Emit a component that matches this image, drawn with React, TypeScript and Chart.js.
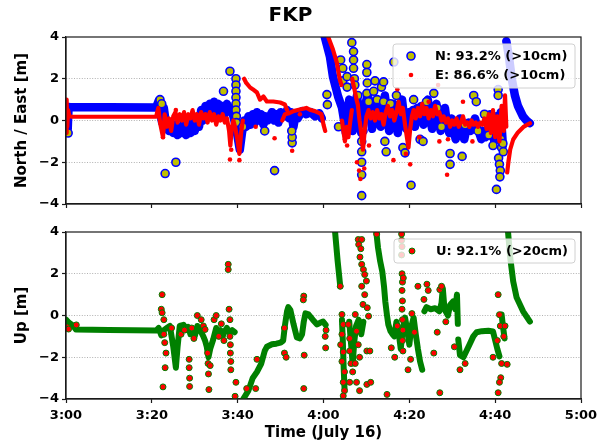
import React, { useEffect, useRef } from 'react';
import { Chart, registerables } from 'chart.js';
Chart.register(...registerables);

type P = [number, number] | null;

// ---------- text ----------
const chartTitle = 'FKP';
const xAxisTitle = 'Time (July 16)';
const neAxisTitle = 'North / East [m]';
const upAxisTitle = 'Up [m]';
const legendTop = ['N: 93.2% (>10cm)', 'E: 86.6% (>10cm)'];
const legendBottom = ['U: 92.1% (>20cm)'];
// x values are minutes after 3:00
const xStartHour = 3;
const xMin = 0;
const xMax = 120;
const xStep = 20;
const yMin = -4;
const yMax = 4;
const yStep = 2;

// ---------- North (dense track, drawn thick) ----------
const northTrack: P[] = [
  [0, -0.6], [0.2, 0.6], [0.4, -0.4], [0.6, 0.65], [1, 0.64], [10, 0.63], [21, 0.62],
  [21.6, 0.95], [22.0, 0.3], [22.4, -0.1], [22.8, 0.6], [23.2, 0.0], [23.6, -0.4], [24, -0.5],
  [24.5, -0.1], [25, -0.6], [25.5, -0.2], [26, -0.7], [26.5, -0.3], [27, -0.6], [27.5, 0.0],
  [28, -0.7], [28.5, -0.3], [29, -0.6], [29.5, -0.1], [30, -0.5], [30.5, 0.1], [31, -0.3],
  [31.5, 0.5], [32, 0.0], [32.5, 0.7], [33, 0.2], [33.5, 0.8], [34, 0.3], [34.5, 0.9], [35, 0.4],
  [35.5, 0.8], [36, 0.2], [36.5, 0.7], [37, 0.3], [37.5, 0.8], [38, 0.5], [38.5, 0.6], [39, 0.2],
  [39.6, -0.3], [40, -0.8], [40.5, -1.4], [41, -0.6], [41.5, 0.0], [42, -0.3], [42.5, 0.2],
  [43, -0.2], [43.5, 0.3], [44, -0.1], [44.5, 0.4], [45, 0.0], [45.5, 0.3], [46, -0.2], [46.5, 0.2],
  [47, 0.0], [48, 0.4], [48.5, 0.0], [49, 0.3], [49.5, -0.1], [50, 0.4], [51, 0.2], [51.5, 0.5],
  [52, 0.1], [52.5, 0.4], [53, -0.3], [53.5, 0.3], [54, 0.1], [55, 0.45], [56, 0.3], [57, 0.4],
  [58, 0.2], [59, 0.35], [59.6, 0.1],
  null,
  [60.3, 4.0], [61.5, 3.06], [62.2, 2.1], [63.4, 1.15], [64.3, 0.62], [64.8, 0.0], [65.2, -0.6],
  [65.6, 0.3], [66.0, 1.0], [66.4, 0.2], [66.8, -0.5], [67.2, 0.5], [67.8, 1.2], [68.3, 0.3],
  [68.8, -0.6], [69.3, 0.2], [69.8, 0.8], [70.3, 1.3], [70.8, 0.5], [71.3, -0.4], [71.8, 0.3],
  [72.3, 1.0], [72.8, 0.2], [73.3, -0.3], [73.8, 0.6], [74.3, 1.2], [74.8, 0.4], [75.3, -0.5],
  [75.8, 0.2], [76.3, 0.8], [76.8, 0.0], [77.3, -0.6], [77.8, 0.3], [78.3, 1.0], [78.8, 0.1],
  [79.3, -0.4], [79.8, 0.4], [80.3, -0.2], [80.8, 0.5], [81.3, -0.3], [81.8, 0.6], [82.3, 0.0],
  [82.8, 0.7], [83.3, -0.2], [83.8, 0.3], [84.3, 1.0], [84.8, 0.2], [85.3, -0.4], [85.8, 0.3],
  [86.3, 0.8], [86.8, 0.0], [87.3, -0.5], [87.8, 0.2], [88.3, 0.6], [88.8, -0.2], [89.3, -0.6],
  [89.8, 0.1], [90.3, -0.5], [90.8, -0.9], [91.3, -0.3], [91.8, 0.1], [92.3, -0.6], [92.8, -0.9],
  [93.3, -0.4], [93.8, -0.1], [94.3, -0.5], [94.8, -0.2], [95.3, 0.1], [95.8, -0.3], [96.3, -0.6],
  [96.8, -0.9], [97.3, -0.5], [97.8, -0.8], [98.3, -0.3], [98.8, 0.3], [99.3, -0.5], [99.8, -1.0],
  [100.3, 0.2], [100.8, -0.8], [101.3, 0.4], [101.8, -1.2],
  null,
  [102.6, 3.8], [103.2, 3.06], [103.9, 1.96], [104.6, 1.2], [105.3, 0.7], [106.5, 0.19],
  [107.3, 0.0], [108.1, -0.13],
];

// ---------- North (isolated markers) ----------
const northPoints: P[] = [
  [0.5, -0.6], [21.9, 1.0], [22.3, 0.8], [23.1, -2.54], [25.6, -2.0], [36.7, 1.4], [38.2, 2.36],
  [39.6, 2.0], [39.6, 1.7], [39.6, 1.4], [39.6, 1.1], [39.6, 0.8], [39.6, 0.5], [39.7, 0.2],
  [39.7, -0.1], [41.2, -0.3], [46.3, -0.5], [48.6, -2.4], [52.7, -1.07], [52.7, -0.8], [52.6, -0.5],
  [60.8, 1.24], [60.9, 0.76], [63.5, -0.3], [64, 2.9], [64.5, 2.5], [64.5, 1.9], [65.5, 1.6],
  [65.5, 2.1], [66.6, 3.73], [67, 3.3], [67, 2.9], [67, 2.5], [67.2, 2.0], [67.3, 1.7], [68, 1.2],
  [68.9, -1.0], [68.9, -1.5], [68.9, -2.0], [68.9, -2.6], [68.9, -3.6], [69.2, -0.5], [70.1, 2.68],
  [70.1, 2.3], [70.2, 1.8], [70.1, 1.3], [70.5, 0.9], [71.7, 1.4], [72, 1.9], [72.5, 1.0],
  [73.5, 1.6], [74, 1.85], [74, 0.9], [74.3, -1.0], [74.6, -1.5], [75.6, 0.8], [76.4, 2.8],
  [77, 1.2], [78.5, -1.3], [79, -1.55], [80.4, -3.1], [81, 1.0], [81.8, 0.3], [82.5, -0.9],
  [83.2, -1.0], [84, 0.9], [85.7, 1.3], [86.5, 0.6], [87.5, -0.3], [89.5, -1.58], [89.5, -2.1],
  [92.3, -1.72], [93, -0.2], [95, 1.2], [95.6, 0.9], [96, -0.5], [97.5, 0.3], [98.5, -0.7],
  [99.5, -1.2], [100.3, -3.3], [100.7, 1.48], [100.7, 1.2], [100.8, -1.8], [101, -2.1],
  [101.2, -2.4], [101.1, -2.7], [101.3, -0.9], [101.5, -1.3], [101.8, -1.1], [101.9, -1.5],
];

// ---------- East (dense track) ----------
const eastTrack: P[] = [
  [0, -0.6], [0.15, 1.0], [0.3, -0.3], [0.5, 0.5], [0.8, 0.2], [1.2, 0.19], [21, 0.18],
  [21.5, 0.6], [22, -0.2], [22.6, -0.8], [23, 0.3], [23.5, -0.3], [24, 0.1], [24.5, -0.5],
  [25, 0.2], [25.5, 0.4], [26, -0.1], [26.5, 0.3], [27, 0.0], [27.5, 0.4], [28, -0.2], [28.5, 0.3],
  [29, 0.1], [29.5, 0.5], [30, 0.0], [30.5, 0.3], [31, -0.2], [31.5, 0.4], [32, 0.1], [32.5, 0.3],
  [33, -0.1], [33.5, 0.4], [34, 0.0], [34.5, 0.3], [35, -0.2], [35.5, 0.2], [36, 0.0], [36.5, 0.3],
  [37, -0.1], [37.5, 0.1], [38, -0.5], [38.3, -1.2], [38.6, -0.4], [39, 0.0], [39.5, -0.4],
  [40, -1.0], [40.4, -1.6], [40.8, -0.6], [41.2, 0.0],
  null,
  [41.5, 2.0], [42, 1.8], [42.9, 1.58], [43.5, 1.5], [44.5, 1.34], [45.2, 1.0], [46, 1.15],
  [46.8, 0.91], [48.3, 0.91], [49.9, 0.86], [51, 0.77], [51.5, 0.5],
  null,
  [50.4, 0.0], [51, 0.3], [52, 0.35], [53, 0.45], [54, 0.5], [55, 0.55], [56, 0.6], [57, 0.5],
  [58, 0.45], [59, 0.35], [59.5, 0.3], [60, -0.2], [60.4, -0.5],
  null,
  [61.1, 4.0], [62.2, 3.4], [63.1, 2.77], [63.8, 1.96], [64.2, 1.7],
  null,
  [64.3, 0.0], [64.7, -0.6], [65, -1.0], [65.4, -0.3], [65.8, -0.8], [66.2, -0.1], [66.6, 0.5],
  null,
  [66.7, 2.0], [67.2, 1.5], [67.7, 1.0], [68, 0.76], [68.4, 0.0], [68.8, -0.6], [69.2, -1.4],
  [69.6, -0.5], [70, 0.2], [70.5, 0.5], [71, 0.1], [71.5, 0.4], [72, 0.0], [72.5, 0.5], [73, 0.1],
  [73.5, 0.3], [74, -0.2], [74.5, 0.4], [75, 0.7], [75.5, 0.2], [76, 0.5], [76.5, 0.0], [77, 0.4],
  [77.5, 0.9], [78, 0.3], [78.5, 0.6], [79, -0.2], [79.5, -0.9], [79.8, -1.3], [80.2, -0.4],
  [80.6, 0.2], [81, 0.5], [81.5, 0.1], [82, 0.6], [82.5, 0.2], [83, 0.8], [83.5, 0.3], [84, 0.6],
  [84.5, 0.1], [85, 0.5], [85.5, 0.2], [86, 0.7], [86.5, 0.3], [87, 0.4], [87.5, 0.0], [88, 0.2],
  [88.5, -0.1], [89, 0.1], [89.5, -0.3], [90, 0.0], [90.5, -0.2], [91, 0.1], [91.5, -0.3],
  [92, -0.1], [92.5, 0.2], [93, -0.2], [93.5, -0.1], [94, -0.3], [94.5, 0.0], [95, -0.2],
  [95.5, -0.1], [96, -0.3], [96.5, -0.1], [97, -0.2], [97.5, 0.1], [98, -0.4], [98.5, 0.3],
  [99, -0.6], [99.5, 0.5], [100, -0.8], [100.5, 0.2], [101, -1.0], [101.5, 0.7], [102, -0.5],
  [102.3, 1.2], [102.6, -0.3],
  null,
  [102.8, -2.49], [103.1, -1.96], [103.5, -1.39], [104.2, -0.91], [105.3, -0.57], [106.7, -0.29],
  [108.1, -0.13],
];

// ---------- East (isolated dots) ----------
const eastPoints: P[] = [
  [22.6, -0.8], [25.6, 0.5], [38.2, -1.87], [38.5, -1.4], [40.4, -1.9], [44.2, -0.3], [48.6, -0.85],
  [52.7, -1.45], [54.5, 0.3], [65, -0.9], [65.5, -1.2], [67.8, -2.0], [68.3, -2.4], [68.6, -2.8],
  [69.5, -2.3], [70.6, -1.2], [76.3, -1.9], [77.2, 1.5], [79.2, -1.6], [80.2, -2.1], [82.3, -0.8],
  [84.5, 0.9], [86.7, 1.7], [87, -1.0], [88.8, -2.6], [89, -0.9], [92.5, 0.9], [94.7, -1.0],
];

// ---------- Up (dense track) ----------
const upTrack: P[] = [
  [0, -0.2], [0.7, -0.35], [1.6, -0.48], [2.3, -0.67], [10, -0.69], [21, -0.72], [21.6, -0.6],
  [22.2, -0.95], [22.8, -0.7], [23.5, -0.6], [24.2, -0.5], [25, -1.5], [25.6, -2.5], [26, -1.5],
  [26.5, -0.5], [27.4, -0.45], [28, -0.7], [28.5, -0.55], [29, -0.9], [29.5, -0.7], [30, -1.0],
  [30.6, -0.5], [31, -0.7], [31.5, -0.8], [32, -1.0], [32.4, -1.2], [32.8, -1.5], [33.2, -2.0],
  [33.6, -1.6], [34.3, -1.15], [35, -0.6], [35.5, -0.9], [36, -0.7], [36.5, -1.0], [37, -0.75],
  [37.5, -0.6], [38, -0.8], [38.7, -0.7], [39.3, -0.8],
  null,
  [41.3, -4.0], [42.5, -3.6], [43.5, -3.0], [44.5, -2.7], [45.5, -2.3], [46.3, -1.7], [46.8, -1.5],
  [48, -1.38], [49, -1.35], [50, -1.3], [50.6, -1.2], [51, -0.5], [51.5, 0.2], [51.8, 0.4],
  [52.3, 0.25], [53, -0.4], [53.8, -1.05], [54.5, -1.1], [55, -0.9], [55.4, -0.3], [55.8, 0.1],
  [56.5, 0.05], [57.5, -0.2], [58.5, -0.43], [59.2, -0.35], [59.9, -0.29], [60.5, -0.45],
  null,
  [62.7, 4.0], [63.3, 2.6], [63.9, 1.4],
  null,
  [64.3, -0.2], [64.5, -1.2], [64.7, -2.5], [64.9, -3.5],
  null,
  [66, -0.3], [66.4, -1.3], [66.8, -2.3], [67.2, -1.2], [67.6, -0.5], [68.2, -0.2], [68.8, -0.9],
  [69.3, -0.3],
  null,
  [72.3, 4.0], [72.7, 3.25], [73.2, 2.6], [73.7, 2.1], [74.1, 1.4], [74.4, 0.67], [74.8, 0.0],
  [75.1, -0.43], [75.6, -0.75], [76.1, -0.9], [76.5, -1.0], [77, -0.3], [77.5, -0.8], [78, -1.6],
  [78.5, -0.6], [79, -0.1], [79.5, -0.7], [80, -1.4], [80.5, -0.5], [81, -0.1], [81.5, -0.9],
  [82, -1.6], [82.5, -2.2], [83, -2.6],
  null,
  [83.5, 0.2], [84, 0.4], [85, 0.3], [86, 0.35], [87, 0.2], [87.5, 0.6], [87.8, 1.3], [88.2, 0.3],
  [89, 0.0], [89.5, 0.5], [90.2, 0.67], [90.7, 0.3], [91.1, 1.0], [91.3, -0.4],
  null,
  [91.4, -1.15], [91.8, -1.9], [92.6, -2.0], [93.3, -1.7], [94, -1.4], [94.9, -1.0], [95.7, -0.8],
  [96.9, -0.75], [98.4, -0.73], [99.5, -0.77], [99.9, -1.1], [100.5, -1.6], [101, -1.96],
  null,
  [101.5, 0.05], [101.8, -0.5], [102.2, -1.1],
  null,
  [103, 4.0], [103.5, 2.78], [104.2, 1.63], [105, 0.86], [106.5, 0.2], [108.1, -0.29],
];

// ---------- Up (isolated markers) ----------
const upPoints: P[] = [
  [0.3, -0.55], [0.6, -0.65], [2.4, -0.45],
  [22.4, 1.0], [22.2, 0.3], [22.4, 0.13], [22.8, -0.2], [22.8, -0.9], [23.0, -1.3], [23.1, -2.5],
  [22.6, -3.42], [23.3, -1.8], [24.6, -0.6], [26.8, -0.9], [27.6, -0.7],
  [28.7, -2.1], [28.7, -2.5], [28.8, -3.0], [28.8, -3.4], [29.3, -0.6], [29.8, -1.1], [30.6, 0.0],
  [31.5, -0.2], [32.0, -0.5], [32.4, -0.67], [33, -1.8], [33.1, -2.3], [33.2, -2.8], [33.3, -3.55],
  [33.6, -2.4], [34.5, -0.2], [35, 0.0], [35.6, -1.0], [36.2, -0.4], [36.8, -1.2], [37.8, 2.45],
  [37.8, 2.2], [38, 0.3], [38.2, -0.2], [38.2, -1.0], [38.3, -1.4], [38.3, -1.8], [38.4, -2.2],
  [38.4, -2.6], [39.6, -3.2], [39.4, -3.87], [42.1, -3.5], [44.2, -3.5], [44.5, -2.1],
  [50.9, -1.8], [51.3, -2.0], [50.9, -0.6], [55.4, 0.93], [55.3, 0.75], [55.4, -3.5], [55.5, -1.9],
  [60.4, -1.0], [60.5, -1.55], [60.6, -0.7], [63.9, 1.4],
  [68.1, 3.64], [68.9, 3.64], [68.2, 3.4], [68.7, 3.2], [68.5, 2.8], [68.9, 2.45], [69.3, 2.2],
  [69.6, 1.96], [70, 1.65], [68.9, 1.4], [69.6, 1.0], [69.2, 0.53], [70.2, 0.37], [70.5, -0.03],
  [64.3, 0.05], [64.6, -0.43], [64.3, -0.9], [64.0, -1.4], [64.6, -1.75], [64.3, -2.2], [64.9, -2.7],
  [64.6, -3.2], [64.9, -3.6], [64.6, -3.85],
  [65.8, -0.43], [66.1, -1.1], [66.1, -1.7], [66.4, -2.3], [66.8, -2.7], [66.1, -3.2],
  [67.4, 0.05], [67.7, -0.75], [68.1, -1.4], [68.4, -2.0], [67.4, -2.3], [67.7, -3.2], [68.4, -3.6],
  [70.1, -1.7], [70.8, -1.7], [70.1, -3.3], [71.0, -3.2], [72.4, 3.9],
  [74.8, -3.78], [75.8, -1.55], [76.6, -2.0], [77.2, -0.5], [78.2, 3.9], [78.2, 3.6], [78.3, 3.3],
  [78.2, 2.9], [78.3, 2.0], [78.4, 1.6], [78.3, 1.2], [78.4, 0.7], [78.3, 0.3], [78.4, -0.2],
  [78.5, -0.7], [78.4, -1.2], [78.5, -1.7], [78.6, 1.8], [79.7, -2.6], [80.3, -2.1], [80.6, 0.09],
  [81.2, -0.8], [82, 1.4], [83.4, 0.77], [84.1, 1.5], [84.4, 1.2], [85.7, -1.8], [87.1, -3.7],
  [87.1, 1.24], [86.5, -0.8], [87.5, 1.4], [88.5, -0.3], [90.5, -1.5], [91.8, -2.6], [93, -2.3],
  [100.7, 1.0], [101, 0.04], [101.2, -0.5], [100.5, -1.2], [99.5, -2.0], [101.5, -2.3],
  [102.8, -2.34], [101.3, -2.98], [101, -3.2], [100.7, -3.7], [102, -1.0], [102.3, -0.5],
];

// ---------- helpers ----------
const FONT = "'DejaVu Sans', sans-serif";
const SPINE = '#1a1a1a';

const toXY = (pts: P[]) => {
  const out: { x: number; y: number | null }[] = [];
  let lastX = 0;
  for (const p of pts) {
    if (p) {
      out.push({ x: p[0], y: p[1] });
      lastX = p[0];
    } else {
      out.push({ x: lastX, y: null });
    }
  }
  return out;
};

const fmtTime = (v: number) => {
  const h = xStartHour + Math.floor(v / 60);
  const m = Math.round(v % 60);
  return `${h}:${m < 10 ? '0' : ''}${m}`;
};

const framePlugin = {
  id: 'frame',
  afterDatasetsDraw(chart: any) {
    const { ctx, chartArea: a } = chart;
    ctx.save();
    ctx.strokeStyle = SPINE;
    ctx.lineWidth = 1.2;
    ctx.strokeRect(a.left, a.top, a.right - a.left, a.bottom - a.top);
    ctx.restore();
  },
};

const boxLegendPlugin = {
  id: 'boxLegend',
  afterDraw(chart: any, _args: any, opts: any) {
    const { ctx, chartArea: a } = chart;
    const w = opts.width;
    const h = opts.height;
    const x0 = a.right - 6 - w;
    const y0 = a.top + 7;
    ctx.save();
    ctx.beginPath();
    const r = 3;
    ctx.moveTo(x0 + r, y0);
    ctx.lineTo(x0 + w - r, y0);
    ctx.quadraticCurveTo(x0 + w, y0, x0 + w, y0 + r);
    ctx.lineTo(x0 + w, y0 + h - r);
    ctx.quadraticCurveTo(x0 + w, y0 + h, x0 + w - r, y0 + h);
    ctx.lineTo(x0 + r, y0 + h);
    ctx.quadraticCurveTo(x0, y0 + h, x0, y0 + h - r);
    ctx.lineTo(x0, y0 + r);
    ctx.quadraticCurveTo(x0, y0, x0 + r, y0);
    ctx.closePath();
    ctx.fillStyle = 'rgba(255,255,255,0.8)';
    ctx.fill();
    ctx.strokeStyle = '#d0d0d0';
    ctx.lineWidth = 1;
    ctx.stroke();
    opts.items.forEach((it: any, i: number) => {
      const ds = chart.data.datasets[it.datasetIndex];
      const cy = y0 + opts.firstRow + i * opts.rowGap;
      const cx = x0 + 18;
      ctx.beginPath();
      ctx.arc(cx, cy, ds.pointRadius, 0, Math.PI * 2);
      ctx.fillStyle = ds.pointBackgroundColor;
      ctx.fill();
      if (ds.pointBorderWidth) {
        ctx.lineWidth = ds.pointBorderWidth;
        ctx.strokeStyle = ds.pointBorderColor;
        ctx.stroke();
      }
      ctx.fillStyle = '#000';
      ctx.font = `bold 13px ${FONT}`;
      ctx.textBaseline = 'middle';
      ctx.textAlign = 'left';
      ctx.fillText(it.text, x0 + 42, cy + 0.5);
    });
    ctx.restore();
  },
};

const yAxis = (title: string) => ({
  type: 'linear',
  min: yMin,
  max: yMax,
  afterFit: (s: any) => {
    s.width = 66;
  },
  ticks: {
    stepSize: yStep,
    color: '#000',
    padding: 3,
    font: { size: 13, weight: 'bold', family: FONT },
    callback: (v: any) => String(v).replace('-', '\u2212'),
  },
  grid: {
    color: (c: any) => (c.tick && Math.abs(c.tick.value) === 4 ? 'rgba(0,0,0,0)' : '#a8a8a8'),
    lineWidth: 0.9,
    tickLength: 4,
    tickColor: SPINE,
    tickWidth: 1.2,
    tickBorderDash: [],
  },
  border: { display: true, color: SPINE, width: 1.2, dash: [1, 1.6] },
  title: {
    display: true,
    text: title,
    color: '#000',
    font: { size: 15, weight: 'bold', family: FONT, lineHeight: 1.2 },
    padding: { top: 13, bottom: 0 },
  },
});

const xAxis = (showLabels: boolean, height: number) => ({
  type: 'linear',
  min: xMin,
  max: xMax,
  afterFit: (s: any) => {
    s.height = height;
  },
  ticks: {
    stepSize: xStep,
    color: showLabels ? '#000' : 'rgba(0,0,0,0)',
    padding: 5,
    maxRotation: 0,
    font: { size: 13, weight: 'bold', family: FONT },
    callback: (v: any) => fmtTime(Number(v)),
  },
  grid: {
    drawOnChartArea: false,
    tickLength: 4,
    tickColor: SPINE,
    tickWidth: 1.2,
  },
  border: { display: true, color: SPINE, width: 1.2 },
  title: {
    display: showLabels,
    text: xAxisTitle,
    color: '#000',
    font: { size: 15, weight: 'bold', family: FONT, lineHeight: 1.2 },
    padding: { top: 0, bottom: 1 },
  },
});

const lineDs = (data: P[], color: string, width: number, order: number) => ({
  data: toXY(data),
  showLine: true,
  spanGaps: false,
  borderColor: color,
  borderWidth: width,
  borderCapStyle: 'round',
  borderJoinStyle: 'round',
  pointRadius: 0,
  pointHoverRadius: 0,
  clip: 0,
  order,
});

const topConfig: any = {
  type: 'scatter',
  data: {
    datasets: [
      {
        label: 'E',
        data: toXY(eastPoints),
        pointRadius: 2.3,
        pointBackgroundColor: '#ff0000',
        pointBorderWidth: 0,
        pointBorderColor: '#ff0000',
        clip: 0,
        order: 0,
      },
      lineDs(eastTrack, '#ff0000', 4.2, 1),
      {
        label: 'N',
        data: toXY(northPoints),
        pointRadius: 4,
        pointBackgroundColor: '#bfbf00',
        pointBorderColor: '#0000ff',
        pointBorderWidth: 1.6,
        clip: 0,
        order: 2,
      },
      lineDs(northTrack, '#0000ff', 8.5, 3),
    ],
  },
  options: {
    responsive: false,
    animation: false,
    events: [],
    layout: { padding: { left: 0, right: 27, top: 0, bottom: 0 } },
    plugins: {
      legend: { display: false },
      tooltip: { enabled: false },
      title: {
        display: true,
        text: chartTitle,
        color: '#000',
        font: { size: 20, weight: 'bold', family: FONT, lineHeight: 1.2 },
        padding: { top: 4, bottom: 9 },
      },
      boxLegend: {
        width: 182,
        height: 44,
        firstRow: 12,
        rowGap: 19,
        items: [
          { datasetIndex: 2, text: legendTop[0] },
          { datasetIndex: 0, text: legendTop[1] },
        ],
      },
    },
    scales: {
      x: xAxis(false, 11),
      y: yAxis(neAxisTitle),
    },
  },
  plugins: [framePlugin, boxLegendPlugin],
};

const bottomConfig: any = {
  type: 'scatter',
  data: {
    datasets: [
      {
        label: 'U',
        data: toXY(upPoints),
        pointRadius: 3,
        pointBackgroundColor: '#ff0000',
        pointBorderColor: '#008000',
        pointBorderWidth: 1,
        clip: 0,
        order: 0,
      },
      lineDs(upTrack, '#008000', 6, 1),
    ],
  },
  options: {
    responsive: false,
    animation: false,
    events: [],
    layout: { padding: { left: 0, right: 27, top: 17, bottom: 0 } },
    plugins: {
      legend: { display: false },
      tooltip: { enabled: false },
      boxLegend: {
        width: 181,
        height: 24,
        firstRow: 12,
        rowGap: 19,
        items: [{ datasetIndex: 0, text: legendBottom[0] }],
      },
    },
    scales: {
      x: xAxis(true, 44),
      y: yAxis(upAxisTitle),
    },
  },
  plugins: [framePlugin, boxLegendPlugin],
};

export default function App() {
  const topRef = useRef<HTMLCanvasElement | null>(null);
  const botRef = useRef<HTMLCanvasElement | null>(null);

  useEffect(() => {
    Chart.defaults.font.family = FONT;
    Chart.defaults.color = '#000';
    const c1 = new Chart(topRef.current as HTMLCanvasElement, topConfig);
    const c2 = new Chart(botRef.current as HTMLCanvasElement, bottomConfig);
    return () => {
      c1.destroy();
      c2.destroy();
    };
  }, []);

  return (
    <div
      style={{
        position: 'fixed',
        left: 0,
        top: 0,
        width: 608,
        height: 443,
        background: '#ffffff',
        overflow: 'hidden',
      }}
    >
      <canvas
        ref={topRef}
        width={608}
        height={215}
        style={{ position: 'absolute', left: 0, top: 0, width: 608, height: 215 }}
      />
      <canvas
        ref={botRef}
        width={608}
        height={228}
        style={{ position: 'absolute', left: 0, top: 215, width: 608, height: 228 }}
      />
    </div>
  );
}
